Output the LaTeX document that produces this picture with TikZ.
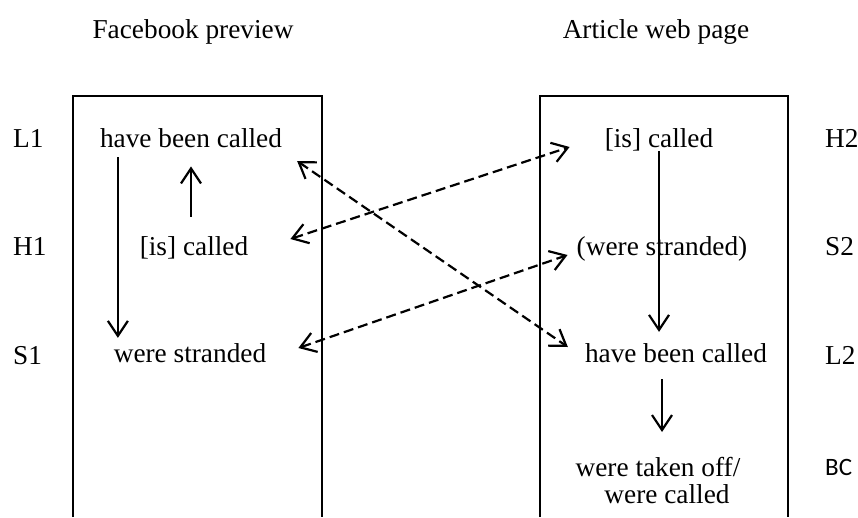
\documentclass[tikz,border=0pt]{standalone}
\usepackage{fontspec}
\setmainfont{Liberation Serif}
\newfontfamily\calibrifont{Carlito}
\usetikzlibrary{arrows.meta}

\begin{document}
\begin{tikzpicture}[x=1pt,y=-1pt,
  every node/.style={inner sep=0,font=\fontsize{27.3}{27}\selectfont},
  phrase/.style={anchor=base},
  rowtag/.style={anchor=base west},
  barb/.tip={Straight Barb[length=15pt,width=20pt]},
  solidarrow/.style={-barb,line width=2.2pt},
  dasharrow/.style={barb-barb,line width=2.2pt,dash pattern=on 10pt off 5pt},
  frame/.style={line width=2.4pt}]
\useasboundingbox (0,0) rectangle (858,517);
\draw[frame] (73,517) -- (73,96) -- (322,96) -- (322,517);
\draw[frame] (540,517) -- (540,96) -- (788,96) -- (788,517);
\node[phrase] (fbtitle) at (193,38) {Facebook preview};
\node[phrase] (arttitle) at (656,38) {Article web page};
\foreach \lab/\ypos in {L1/147,H1/255,S1/364}
  { \node[rowtag] (\lab) at (13,\ypos) {\lab};}
\foreach \lab/\ypos in {H2/147,S2/255,L2/364}
  { \node[rowtag] (\lab) at (825,\ypos) {\lab};}
\node[rowtag,font=\calibrifont\fontsize{25}{27}\selectfont] (BC) at (825,475) {BC};
% Facebook preview
\node[phrase] (lhave) at (191,147) {have been called};
\node[phrase] (lis) at (194,255) {[is] called};
\node[phrase] (lstr) at (190,362) {were stranded};
% article web page
\node[phrase] (ris) at (659,147) {[is] called};
\node[phrase] (rstr) at (662,255) {(were stranded)};
\node[phrase] (rhave) at (676,362) {have been called};
\node[anchor=north,align=center] (rtake) at (658,457) {were taken off/\\\hspace*{18pt}were called};
% order inside each box
\draw[solidarrow,shorten <=10pt,shorten >=5pt] ([xshift=18pt]lhave.south west) -- ([xshift=18pt]lhave.south west |- lstr.north);
\draw[solidarrow,shorten <=19pt,shorten >=19pt] (lis.north -| lhave.south) -- (lhave.south);
\draw[solidarrow,shorten >=11pt] (ris.south) -- (ris.south |- rhave.north);
\draw[solidarrow,shorten <=17pt,shorten >=25pt] ([xshift=4pt]rtake.north |- rhave.south) -- ([xshift=4pt]rtake.north);
% links between the two
\draw[dasharrow] ([shift={(15,14)}]lhave.base east) -- ([shift={(-17,-15)}]rhave.base west);
\draw[dasharrow] ([shift={(42,-16)}]lis.base east) -- ([shift={(-35,0)}]ris.base west);
\draw[dasharrow] ([shift={(32,-14)}]lstr.base east) -- ([shift={(-9,0)}]rstr.base west);
\end{tikzpicture}
\end{document}
